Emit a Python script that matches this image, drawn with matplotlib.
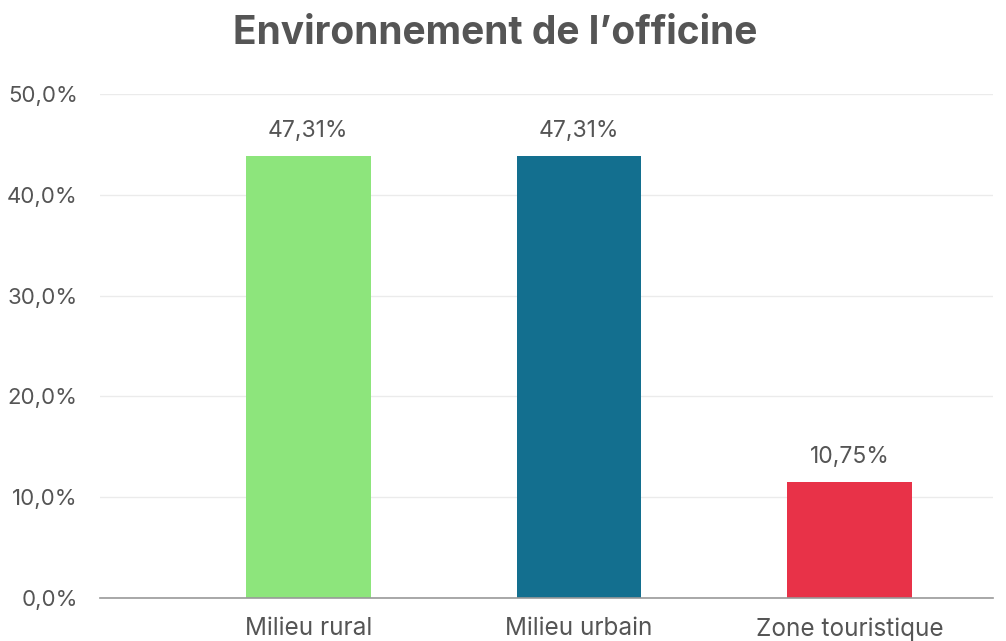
import matplotlib
matplotlib.use("Agg")
import matplotlib.pyplot as plt
from matplotlib.ticker import FuncFormatter

categories = ["Milieu rural", "Milieu urbain", "Zone touristique"]
bar_values = [43.8, 43.8, 11.5]
value_labels = ["47,31%", "47,31%", "10,75%"]
colors = ["#8de57c", "#136f8f", "#e83248"]

plt.rcParams["font.family"] = ["Inter", "DejaVu Sans"]
text_color = "#555555"

fig = plt.figure(figsize=(10.06, 6.41), dpi=100)
ax = fig.add_axes([0.0994, 0.0671, 0.8877, 0.7863])

x = range(len(categories))
ax.bar(x, bar_values, width=0.46, color=colors, zorder=3)

for i, (v, lab) in enumerate(zip(bar_values, value_labels)):
    ax.annotate(lab, (i, v), xytext=(0, 14), textcoords="offset points",
                ha="center", va="baseline", fontsize=16.5, color=text_color)

ax.set_ylim(0, 50)
ax.set_xlim(-0.77, 2.53)
ax.set_yticks([0, 10, 20, 30, 40, 50])
ax.yaxis.set_major_formatter(FuncFormatter(lambda v, p: f"{v:.1f}%".replace(".", ",")))
ax.set_xticks(list(x))
ax.set_xticklabels(categories)

ax.grid(axis="y", color="#ebebeb", linewidth=1, zorder=0)
for s in ["top", "right", "left"]:
    ax.spines[s].set_visible(False)
ax.spines["bottom"].set_color("#999999")
ax.spines["bottom"].set_linewidth(1.2)
ax.spines["bottom"].set_zorder(4)

ax.tick_params(axis="both", length=0, labelcolor=text_color)
ax.tick_params(axis="y", pad=16, labelsize=16)
ax.tick_params(axis="x", pad=14, labelsize=17.5)

fig.text(0.492, 0.948, "Environnement de l\u2019officine", ha="center", va="center",
         fontsize=28, fontweight="bold", color=text_color)

fig.savefig("out.png", dpi=100)
